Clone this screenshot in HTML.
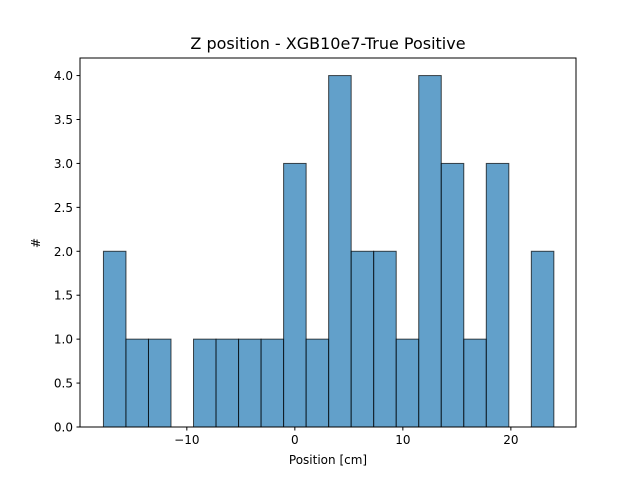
<!DOCTYPE html>
<html><head><meta charset="utf-8"><style>
body{margin:0;background:#fff}
text{font-family:"DejaVu Sans","Liberation Sans",sans-serif;fill:#000}
</style></head><body>
<svg id="chart" width="640" height="480" xmlns="http://www.w3.org/2000/svg">
<rect width="640" height="480" fill="#fff"/>
<text x="328" y="49" font-size="16" text-anchor="middle">Z position - XGB10e7-True Positive</text>
<g id="bars"></g>
<g id="axes"></g>
<text x="328" y="464" font-size="12" text-anchor="middle">Position [cm]</text>
<text transform="translate(40,243) rotate(-90)" font-size="12" text-anchor="middle">#</text>
</svg>
<script>
const binStart = -17.72;
const binWidth = 2.085;
const counts = [2,1,1,0,1,1,1,1,3,1,4,2,2,1,4,3,1,3,0,2];
const xTicks = [-10,0,10,20];
const xTickLabels = ["\u221210","0","10","20"];
const yTicks = [0,0.5,1,1.5,2,2.5,3,3.5,4];
const yTickLabels = ["0.0","0.5","1.0","1.5","2.0","2.5","3.0","3.5","4.0"];
const L=80,R=576,T=58,B=427, xmin=-19.89, xmax=26.03, ymin=0, ymax=4.2;
const xs=v=>L+(v-xmin)/(xmax-xmin)*(R-L);
const ys=v=>B-(v-ymin)/(ymax-ymin)*(B-T);
const NS="http://www.w3.org/2000/svg";
const bars=document.getElementById('bars'), axes=document.getElementById('axes');
function mk(tag,attrs,parent){const e=document.createElementNS(NS,tag);for(const k in attrs)e.setAttribute(k,attrs[k]);parent.appendChild(e);return e;}
counts.forEach((c,i)=>{
  if(c<=0)return;
  const x0=xs(binStart+i*binWidth), x1=xs(binStart+(i+1)*binWidth);
  const r=mk('rect',{x:x0,y:ys(c),width:x1-x0,height:ys(0)-ys(c),fill:'#1f77b4','fill-opacity':0.7,stroke:'#000','stroke-opacity':0.7,'stroke-width':1},bars);
  
  
});
const frame=mk('rect',{x:L,y:T,width:R-L,height:B-T,fill:'none',stroke:'#000','stroke-width':1},axes);


xTicks.forEach((v,i)=>{
  const x=xs(v);
  mk('line',{x1:x,x2:x,y1:B,y2:B+3.5,stroke:'#000'},axes);
  const t=mk('text',{x:x,y:B+17,'font-size':12,'text-anchor':'middle'},axes);
  t.textContent=xTickLabels[i];
  
  
});
yTicks.forEach((v,i)=>{
  const y=ys(v);
  mk('line',{x1:L-3.5,x2:L,y1:y,y2:y,stroke:'#000'},axes);
  const t=mk('text',{x:L-7,y:y+4.5,'font-size':12,'text-anchor':'end'},axes);
  t.textContent=yTickLabels[i];
  
  
});
</script>
</body></html>
